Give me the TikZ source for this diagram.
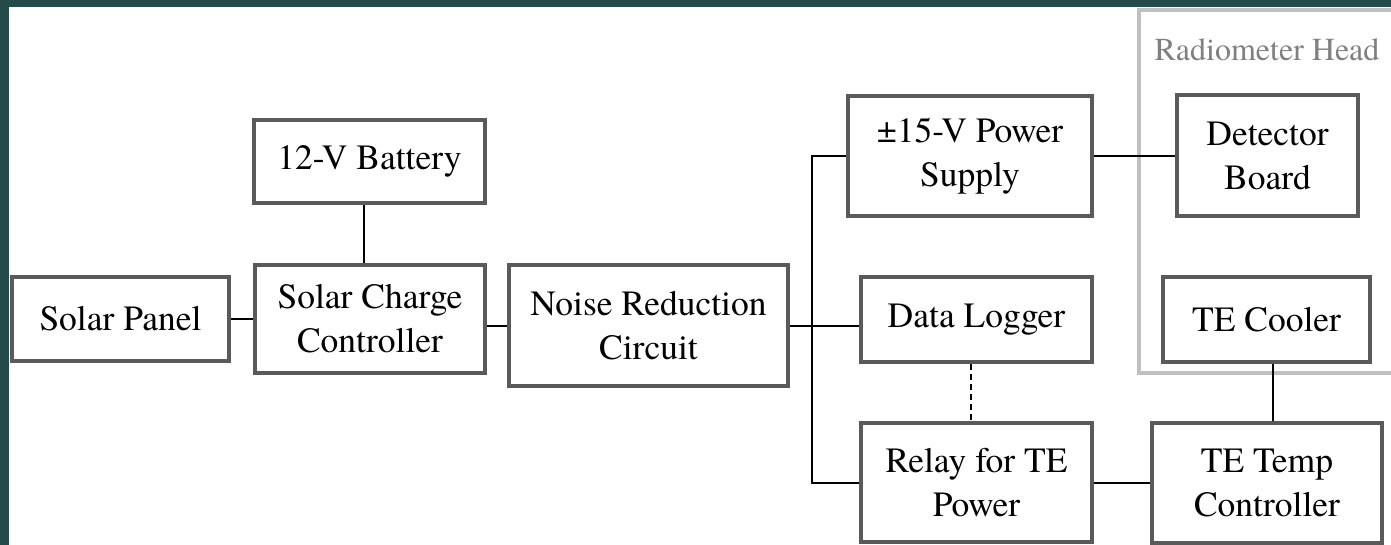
\documentclass[tikz,border=0pt]{standalone}
\usepackage{fontspec}
\IfFontExistsTF{texgyretermes-regular.otf}{%
  \setmainfont{texgyretermes}[Extension=.otf, UprightFont=*-regular, BoldFont=*-bold, ItalicFont=*-italic, BoldItalicFont=*-bolditalic]%
}{}
\definecolor{bandteal}{RGB}{36,74,74}
\definecolor{boxgray}{RGB}{90,90,90}
\definecolor{grpgray}{RGB}{192,192,192}
\definecolor{lblgray}{RGB}{128,128,128}
\tikzset{
  blk/.style={draw=boxgray, line width=4pt, fill=white, align=center, inner sep=0pt,
    font=\fontsize{35.5}{44}\selectfont},
  wire/.style={draw=black, line width=2pt},
  grp/.style={draw=grpgray, line width=4pt},
}
\begin{document}
\begin{tikzpicture}[x=1pt,y=-1pt]
\useasboundingbox (0,0) rectangle (1391,545);
\fill[bandteal] (0,0) rectangle (1391,545);
\fill[white] (9,7) rectangle (1391,545);
% radiometer head group
\draw[grp] (1450,10) -- (1139,10) -- (1139,373) -- (1450,373);
\node[text=lblgray, font=\fontsize{32}{38}\selectfont] (rhlabel) at (1267,50) {Radiometer Head};
% blocks
\node[blk, minimum width=217pt, minimum height=84pt] (solar) at (120.5,319) {Solar Panel};
\node[blk, minimum width=230pt, minimum height=108pt] (scc) at (370,319) {Solar Charge\\Controller};
\node[blk, minimum width=231pt, minimum height=83pt] (batt) at (369.5,161.5) {12-V Battery};
\node[blk, minimum width=279pt, minimum height=121pt] (noise) at (648.5,325.5) {Noise Reduction\\Circuit};
\node[blk, minimum width=244pt, minimum height=120pt] (ps) at (970,156) {±15-V Power\\Supply};
\node[blk, minimum width=231pt, minimum height=85pt] (dl) at (976.5,319.5) {Data Logger};
\node[blk, minimum width=231pt, minimum height=119pt] (relay) at (976.5,482.5) {Relay for TE\\Power};
\node[blk, minimum width=181pt, minimum height=121pt] (det) at (1267.5,155.5) {Detector\\Board};
\node[blk, minimum width=207pt, minimum height=85pt] (cooler) at (1266.5,319.5) {TE Cooler};
\node[blk, minimum width=230pt, minimum height=120pt] (tetc) at (1267,483) {TE Temp\\Controller};
\coordinate (bus) at (812,0);
% connectors
\draw[wire] (solar.east) -- (solar.east -| scc.west);
\draw[wire] ([xshift=-6pt]batt.south) -- ([xshift=-6pt]batt.south |- scc.north);
\draw[wire] (noise.west) -- (noise.west -| scc.east);
\draw[wire] (noise.east) -- (noise.east -| dl.west);
\draw[wire] (ps.west) -| (bus |- relay.west) -- (relay.west);
\draw[wire] (ps.east) -- (ps.east -| det.west);
\draw[wire, dashed, dash pattern=on 6pt off 4pt] ([xshift=-6pt]dl.south) -- ([xshift=-6pt]dl.south |- relay.north);
\draw[wire] (relay.east) -- (relay.east -| tetc.west);
\draw[wire] ([xshift=6pt]cooler.south) -- ([xshift=6pt]cooler.south |- tetc.north);
\end{tikzpicture}
\end{document}
